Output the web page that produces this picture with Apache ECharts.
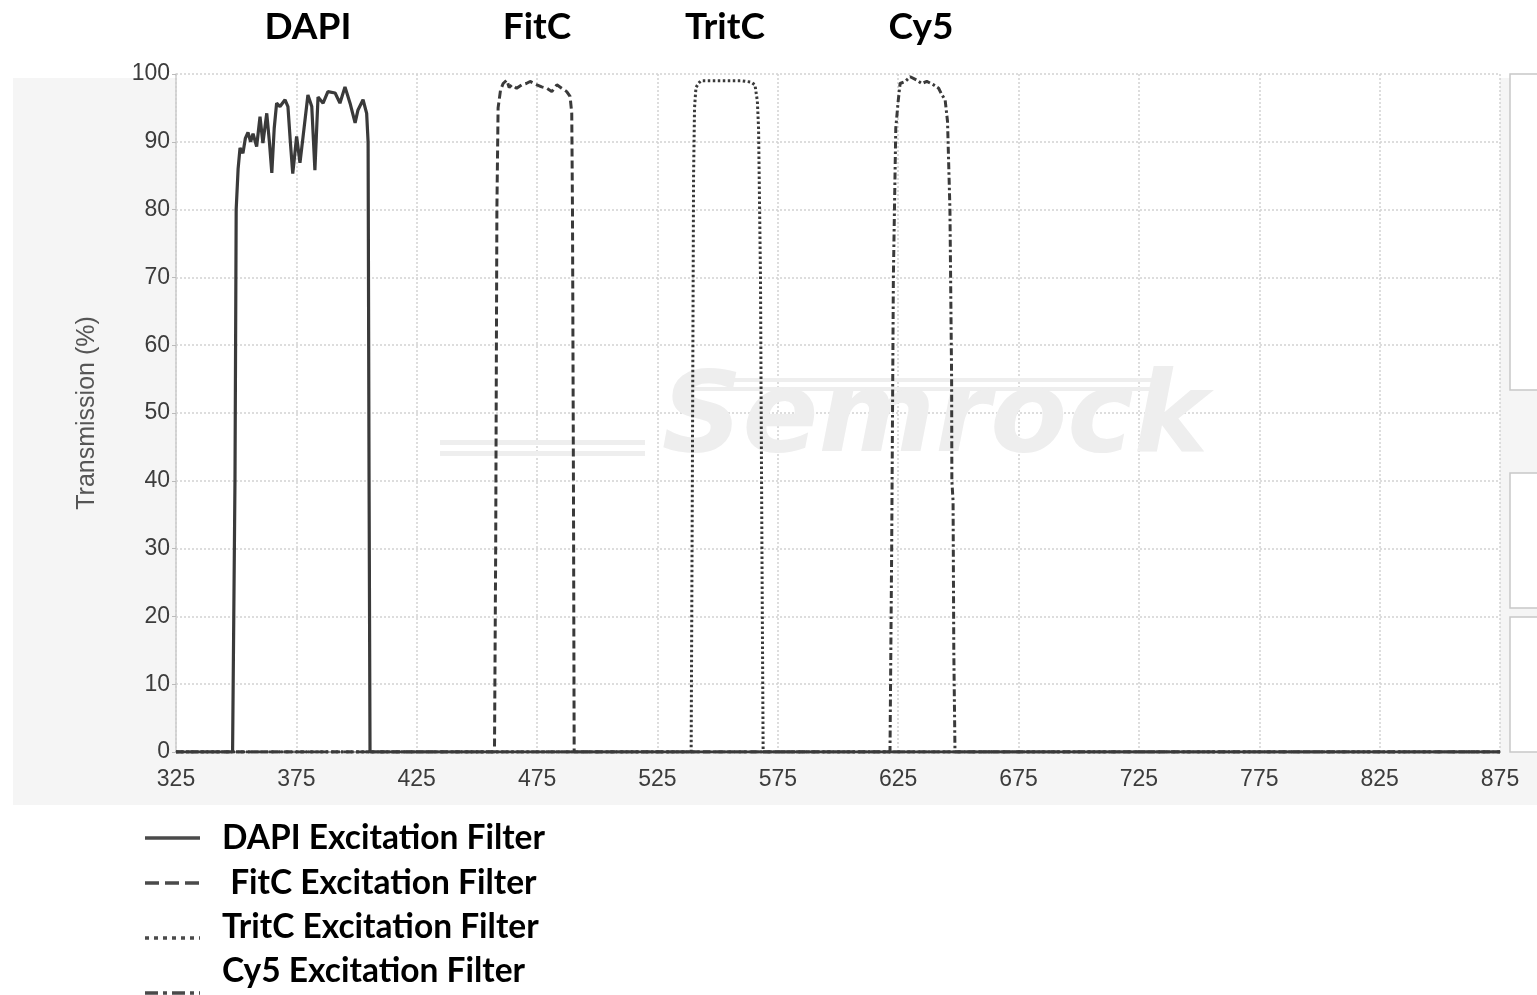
<!DOCTYPE html>
<html>
<head>
<meta charset="utf-8">
<script src="https://cdn.jsdelivr.net/npm/echarts@6/dist/echarts.min.js"></script>
<style>
html,body{margin:0;padding:0;background:#fff;}
#chart{width:1537px;height:995px;}
</style>
</head>
<body>
<div id="chart"></div>
<script>
// ---- data (wavelength nm / transmission %) ----
const dapiWavelength = [325,348.5,349.5,350,350.8,351.6,352.8,353.8,354.9,356,357,358.5,359.9,361.1,362.7,363.8,364.8,365.8,366.8,368.2,370.3,371.5,372.5,373.5,374.3,375.1,376.5,377.8,379.8,381.4,382.7,384.0,386.1,388.1,391.1,393.1,395.2,397.3,399.4,400.6,402.7,404.2,404.8,405.2,405.6,875];
const dapiTransmission = [0,0,40,80,86,89.1,88.3,90.5,91.4,90,91.2,89.3,93.7,89.8,94.2,90,85.4,92,95.7,95.2,96.2,95.2,90,85.3,88,90.8,86.9,90.8,96.9,95.2,85.8,96.6,95.7,97.4,97.2,95.7,98.1,95.7,92.8,94.7,96.2,94.2,90,40,0,0];

const fitcWavelength = [325,457.3,457.8,458.3,458.8,459.8,460.9,462.4,463.4,464.5,466.5,468.6,470.5,472.1,474.9,476.9,479.0,481.1,483.2,485.2,487.3,488.7,489.4,489.7,490.1,490.4,875];
const fitcTransmission = [0,0,30,80,95,97.6,98.6,99.1,98,98.4,97.9,98.4,98.6,98.9,98.4,98.1,97.9,97.4,98.4,97.9,97.4,96.7,94.2,80,40,0,0];

const tritcWavelength = [325,539.0,539.5,540.0,540.4,541,542.0,543,545,550,555,560,564,565.5,566.5,567,567.8,568.4,568.9,875];
const tritcTransmission = [0,0,40,85,95,98,98.6,99,99,99,99,99,98.8,98.4,96,92,70,30,0,0];

const cy5Wavelength = [325,621.6,622.3,623,624,625,625.8,627.9,630,632.7,634.8,636.9,639.7,641.8,643.2,644.5,645.5,646.5,647.2,647.3,647.8,648.1,648.6,875];
const cy5Transmission = [0,0,30,70,92,96,98.6,98.9,99.6,99.1,98.6,98.9,98.4,97.9,96.9,96.2,93,80,55,40,37,15,0,0];

const seriesNames = ['DAPI Excitation Filter', ' FitC Excitation Filter', 'TritC Excitation Filter', 'Cy5 Excitation Filter'];
const headerLabels = ['DAPI', 'FitC', 'TritC', 'Cy5'];
const xTickMin = 325, xTickMax = 875, xTickStep = 50;
const yTickMin = 0, yTickMax = 100, yTickStep = 10;

function zip(xs, ys){ return xs.map((x,i)=>[x, ys[i]]); }

// layout / style (not data)
const headerCenters = [308, 537, 725, 921];
const legendTextY = [838, 883, 927, 971];
const legendIconY = [838, 883, 938, 993];
const dashes = [null, [14,6], [4,5], [13,5,4,5]];
const lineColor = '#3a3a3a';
const labelFont = '"Liberation Sans", Arial, sans-serif';
const boldFont = 'Lato, "Open Sans", sans-serif';

const chart = echarts.init(document.getElementById('chart'));

const headerGraphics = headerLabels.map((t,i)=>({
  type:'text', x: headerCenters[i], y: 27, z: 10,
  style:{ text:t, x:0, y:0, align:'center', verticalAlign:'middle',
    font:'bold 37px ' + boldFont, fill:'#000' }
}));

const legendGraphics = [];
seriesNames.forEach((n,i)=>{
  legendGraphics.push({ type:'line', z:10, shape:{ x1:145, y1:legendIconY[i], x2:200, y2:legendIconY[i] },
    style:{ stroke:'#4a4a4a', lineWidth:3.5, lineDash: dashes[i] || null } });
  legendGraphics.push({ type:'text', z:10, x:222, y:legendTextY[i],
    style:{ text:n, x:0, y:0, align:'left', verticalAlign:'middle',
      font:'bold 33.5px ' + boldFont, fill:'#000', whiteSpace:'pre' } });
});

chart.setOption({
  animation:false,
  backgroundColor:'#ffffff',
  grid:{ left:176, right:37, top:74, bottom:243, show:true, backgroundColor:'#ffffff', borderWidth:0 },
  xAxis:{
    type:'value', min:xTickMin, max:xTickMax, interval:xTickStep,
    axisLine:{ show:true, lineStyle:{ color:'#9a9a9a', width:2 } },
    axisTick:{ show:false },
    axisLabel:{ color:'#3c3c3c', fontSize:23, fontFamily:labelFont, margin:16 },
    splitLine:{ show:true, lineStyle:{ color:'#d2d2d2', type:[2,2], width:1.5 } }
  },
  yAxis:{
    type:'value', min:yTickMin, max:yTickMax, interval:yTickStep,
    name:'Transmission (%)', nameLocation:'middle', nameGap:76,
    nameTextStyle:{ color:'#555', fontSize:25, fontFamily:labelFont },
    axisLine:{ show:true, lineStyle:{ color:'#cccccc', width:1.5 } },
    axisTick:{ show:true, length:4, lineStyle:{ color:'#bbbbbb' } },
    axisLabel:{ color:'#3c3c3c', fontSize:23, fontFamily:labelFont, margin:6 },
    splitLine:{ show:true, lineStyle:{ color:'#d2d2d2', type:[2,2], width:1.5 } }
  },
  graphic:[
    { type:'rect', z:-10, shape:{ x:13, y:78, width:1524, height:727 }, style:{ fill:'#f5f5f5' } },
    { type:'rect', z:-5, shape:{ x:1510, y:74, width:30, height:316 }, style:{ fill:'#fff', stroke:'#c8c8c8', lineWidth:1.5 } },
    { type:'rect', z:-5, shape:{ x:1510, y:473, width:30, height:135 }, style:{ fill:'#fff', stroke:'#c8c8c8', lineWidth:1.5 } },
    { type:'rect', z:-5, shape:{ x:1510, y:617, width:30, height:135 }, style:{ fill:'#fff', stroke:'#c8c8c8', lineWidth:1.5 } },
    { type:'rect', z:1, shape:{ x:440, y:440, width:205, height:5 }, style:{ fill:'#eeeeee' } },
    { type:'rect', z:1, shape:{ x:440, y:451, width:205, height:5 }, style:{ fill:'#eeeeee' } },
    { type:'rect', z:1, shape:{ x:680, y:378, width:480, height:4 }, style:{ fill:'#eeeeee' } },
    { type:'rect', z:1, shape:{ x:680, y:387, width:480, height:4 }, style:{ fill:'#eeeeee' } },
    { type:'text', z:1, x:935, y:422, style:{ text:'Semrock', x:0, y:0, align:'center', verticalAlign:'middle',
      font:'italic bold 112px "DejaVu Sans", sans-serif', fill:'#eeeeee' } },
    ...headerGraphics,
    ...legendGraphics
  ],
  series:[
    { name:seriesNames[0], type:'line', symbol:'none', z:3, data:zip(dapiWavelength, dapiTransmission),
      lineStyle:{ color:lineColor, width:3.2, type:'solid' }, itemStyle:{ color:lineColor } },
    { name:seriesNames[1], type:'line', symbol:'none', z:3, data:zip(fitcWavelength, fitcTransmission),
      lineStyle:{ color:lineColor, width:3, type:[8,4] }, itemStyle:{ color:lineColor } },
    { name:seriesNames[2], type:'line', symbol:'none', z:3, data:zip(tritcWavelength, tritcTransmission),
      lineStyle:{ color:lineColor, width:3, type:[2.5,2.5] }, itemStyle:{ color:lineColor } },
    { name:seriesNames[3], type:'line', symbol:'none', z:3, data:zip(cy5Wavelength, cy5Transmission),
      lineStyle:{ color:lineColor, width:3, type:[7,3,2.5,3] }, itemStyle:{ color:lineColor } }
  ]
});
</script>
</body>
</html>
